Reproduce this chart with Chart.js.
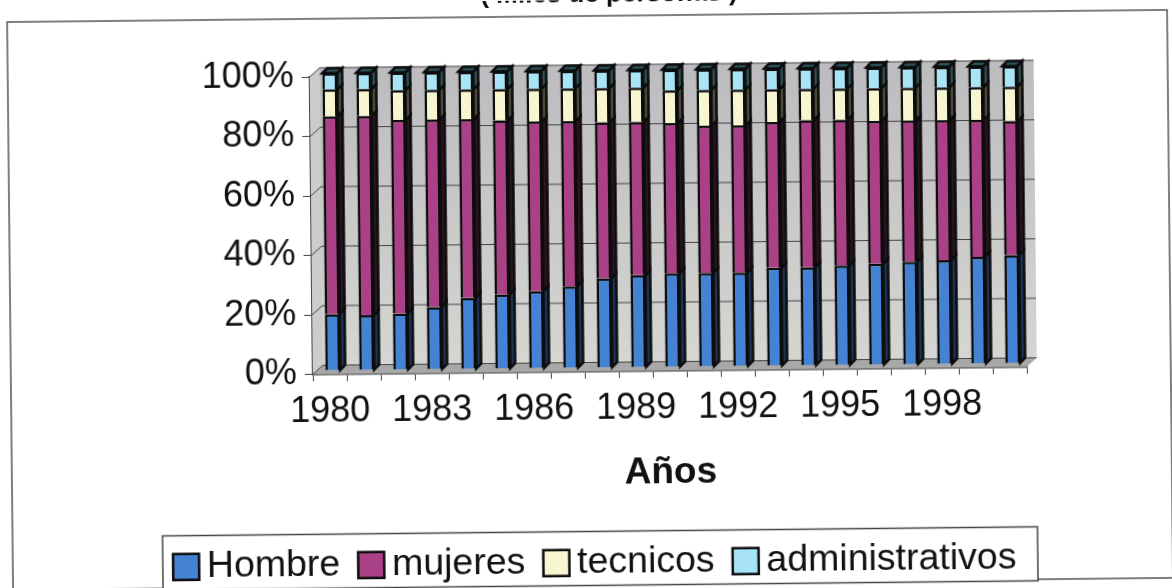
<!DOCTYPE html>
<html>
<head>
<meta charset="utf-8">
<style>
  html, body { margin: 0; background: #fff; overflow: hidden; width: 1172px; height: 588px; }
  canvas { display: block; transform: rotate(-0.6deg); transform-origin: 586px 294px; filter: blur(0.6px); }
</style>
<script src="https://cdn.jsdelivr.net/npm/chart.js@4"></script>
</head>
<body>
<canvas id="chart" width="1172" height="588"></canvas>
<script>
const years = ["1980","1981","1982","1983","1984","1985","1986","1987","1988","1989","1990",
               "1991","1992","1993","1994","1995","1996","1997","1998","1999","2000"];

const hombre          = [19,18.5,19,21,24,25,26,27.5,30,31,31.5,31.5,31.5,33,33,33.5,34,34.5,35,36,36.5];
const mujeres         = [66.5,67,65,63,60,58.5,57,55.5,52.5,51.5,50.5,49.5,49.5,49,49.5,49,48,47.5,47,46,45];
const tecnicos        = [9,9,10,10,10,10.5,11,11,11.5,11.5,11,12,12,11,10.5,10.5,11,11,11,11,11.5];
const administrativos = [5.5,5.5,6,6,6,6,6,6,6,6,7,7,7,7,7,7,7,7,7,7,7];

const yTicks = [0, 20, 40, 60, 80, 100];

const titleText = "( Miles de personas )";
const xTitle = "Años";

const sideColors = ["#1d3350", "#2a1424", "#4a4a36", "#2c5058"];

const DEPTH = 10;      // wall depth
const BAR_DEPTH = 5;   // how far each bar sticks back

//
// Frame, title and the fake 3D walls
//

const scenePlugin = {
    id: "scene",

    beforeDraw(chart) {
        const { ctx } = chart;
        ctx.save();
        ctx.fillStyle = "#fff";
        ctx.fillRect(0, 0, chart.width, chart.height);

        // outer frame
        ctx.strokeStyle = "#555";
        ctx.lineWidth = 1.5;
        ctx.strokeRect(10, 16, 1160, 568);

        // cut off title
        ctx.fillStyle = "#111";
        ctx.font = "bold 26px 'Liberation Sans'";
        ctx.textAlign = "center";
        ctx.textBaseline = "alphabetic";
        ctx.fillText(titleText, 612, 2);

        // legend box
        ctx.fillStyle = "#fff";
        ctx.strokeStyle = "#444";
        ctx.lineWidth = 1.5;
        ctx.fillRect(160, 531.5, 875, 54);
        ctx.strokeRect(160, 531.5, 875, 54);
        ctx.restore();
    },

    beforeDatasetsDraw(chart) {
        const { ctx, chartArea: { left, right, top, bottom }, scales: { y } } = chart;

        ctx.save();

        // left wall
        ctx.fillStyle = "#cccccc";
        ctx.beginPath();
        ctx.moveTo(left, top);
        ctx.lineTo(left + DEPTH, top - DEPTH + 1);
        ctx.lineTo(left + DEPTH, bottom - DEPTH + 1);
        ctx.lineTo(left, bottom);
        ctx.closePath();
        ctx.fill();

        // back wall, the scan gets paler towards the floor
        const wall = ctx.createLinearGradient(0, top, 0, bottom);
        wall.addColorStop(0, "#bdbdc0");
        wall.addColorStop(1, "#d6d6d2");
        ctx.fillStyle = wall;
        ctx.fillRect(left + DEPTH, top - DEPTH + 1, right - left, bottom - top);

        // floor
        ctx.fillStyle = "#a8a8a8";
        ctx.beginPath();
        ctx.moveTo(left, bottom);
        ctx.lineTo(right, bottom);
        ctx.lineTo(right + DEPTH, bottom - DEPTH + 1);
        ctx.lineTo(left + DEPTH, bottom - DEPTH + 1);
        ctx.closePath();
        ctx.fill();

        // gridlines, wall part then back part
        ctx.strokeStyle = "#444";
        ctx.lineWidth = 1;
        yTicks.forEach(v => {
            const yPos = y.getPixelForValue(v);
            ctx.beginPath();
            ctx.moveTo(left, yPos);
            ctx.lineTo(left + DEPTH, yPos - DEPTH + 1);
            ctx.lineTo(right + DEPTH, yPos - DEPTH + 1);
            ctx.stroke();
        });

        ctx.restore();

        // bars sit a little behind the axis plane
        ctx.save();
        ctx.translate(3, -3.5);

        // side and top of every bar segment
        chart.data.datasets.forEach((ds, d) => {
            chart.getDatasetMeta(d).data.forEach(bar => {
                const r = bar.x + bar.width / 2;
                const l = bar.x - bar.width / 2;

                ctx.fillStyle = sideColors[d];
                ctx.strokeStyle = "#0c0c0c";
                ctx.lineWidth = 2.5;

                ctx.beginPath();
                ctx.moveTo(r, bar.y);
                ctx.lineTo(r + BAR_DEPTH, bar.y - BAR_DEPTH);
                ctx.lineTo(r + BAR_DEPTH, bar.base - BAR_DEPTH);
                ctx.lineTo(r, bar.base);
                ctx.closePath();
                ctx.fill();
                ctx.stroke();

                if (d === chart.data.datasets.length - 1) {
                    ctx.beginPath();
                    ctx.moveTo(l, bar.y);
                    ctx.lineTo(l + BAR_DEPTH, bar.y - BAR_DEPTH);
                    ctx.lineTo(r + BAR_DEPTH, bar.y - BAR_DEPTH);
                    ctx.lineTo(r, bar.y);
                    ctx.closePath();
                    ctx.fill();
                    ctx.stroke();
                }
            });
        });
    },

    afterDatasetsDraw(chart) {
        chart.ctx.restore();
    },

    afterLayout(chart) {
        // legend sits in its own box, centred under the frame rather than the plot
        const legend = chart.legend;
        legend.left = 100;
        legend.right = 1095;
        legend.top = 515;
        legend.bottom = 616;
    }
};

Chart.defaults.font.family = "'Liberation Sans', Arial, sans-serif";
Chart.defaults.color = "#111";
Chart.defaults.animation = false;

function makeSeries(label, data, color) {
    return {
        label,
        data,
        backgroundColor: color,
        borderColor: "#0c0c0c",
        borderWidth: 2.5,
        barPercentage: 0.44,
        categoryPercentage: 1
    };
}

new Chart(document.getElementById("chart"), {
    type: "bar",
    plugins: [scenePlugin],
    data: {
        labels: years,
        datasets: [
            makeSeries("Hombre", hombre, "#4482d4"),
            makeSeries("mujeres", mujeres, "#aa4085"),
            makeSeries("tecnicos", tecnicos, "#f8f6d0"),
            makeSeries("administrativos", administrativos, "#a8e4f6")
        ]
    },
    options: {
        responsive: false,
        layout: {
            padding: { top: 74, right: 146, bottom: -30, left: 0 }
        },
        scales: {
            x: {
                stacked: true,
                afterFit(scale) { scale.height = 170; },
                grid: { drawOnChartArea: false, tickLength: 7, color: "#444" },
                border: { color: "#444", width: 1.5 },
                ticks: {
                    autoSkip: false,
                    maxRotation: 0,
                    padding: 9,
                    font: { size: 36 },
                    callback(value, index) {
                        return index % 3 === 0 ? years[index] : "";
                    }
                },
                title: {
                    display: true,
                    text: xTitle,
                    font: { size: 37, weight: "bold" },
                    padding: { top: 0, bottom: 46 }
                }
            },
            y: {
                stacked: true,
                min: 0,
                max: 100,
                afterFit(scale) { scale.width = 312; },
                grid: { drawOnChartArea: false, tickLength: 8, color: "#444" },
                border: { color: "#444", width: 1.5 },
                afterBuildTicks(scale) {
                    scale.ticks = yTicks.map(value => ({ value }));
                },
                ticks: {
                    padding: 8,
                    font: { size: 36 },
                    callback: value => value + "%"
                }
            }
        },
        plugins: {
            title: { display: false },
            tooltip: { enabled: false },
            legend: {
                position: "bottom",
                labels: {
                    usePointStyle: true,
                    pointStyle: "rect",
                    boxWidth: 4,
                    boxHeight: 26,
                    padding: 29,
                    font: { size: 37.5 },
                    color: "#111"
                }
            }
        }
    }
});
</script>
</body>
</html>
